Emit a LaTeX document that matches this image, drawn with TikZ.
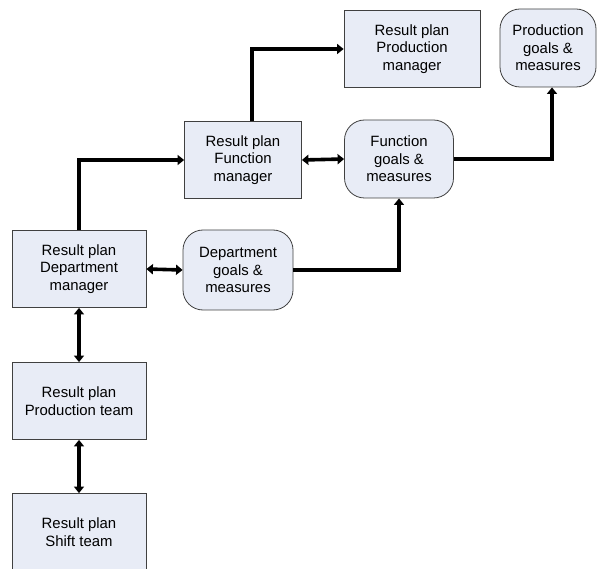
\documentclass[tikz,border=0pt]{standalone}
\usepackage{fontspec}
\setmainfont{Liberation Sans}
\usetikzlibrary{arrows.meta}
\definecolor{boxfill}{HTML}{E8ECF6}
\definecolor{boxline}{HTML}{404040}
\tikzset{
  planbox/.style={draw=boxline, line width=0.8pt, fill=boxfill, align=center, inner sep=0pt,
    font=\fontsize{14.9}{17.5}\selectfont},
  goalbox/.style={planbox, rounded corners=20pt},
  conn/.style={line width=3.6pt, -{Triangle[length=6.5pt,width=10pt]}},
  dconn/.style={line width=3.6pt, {Triangle[length=6.5pt,width=10pt]}-{Triangle[length=6.5pt,width=10pt]}}
}
\begin{document}
\begin{tikzpicture}[x=1pt,y=-1pt]
\useasboundingbox (0,0) rectangle (597,569);
\node[planbox, minimum width=134pt, minimum height=77pt] (DM) at (79,269) {Result plan\\Department\\manager};
\node[goalbox, minimum width=110pt, minimum height=80pt] (DG) at (238,270) {Department\\goals \&\\measures};
\node[planbox, minimum width=117pt, minimum height=77pt] (FM) at (243,160) {Result plan\\Function\\manager};
\node[goalbox, minimum width=109pt, minimum height=78pt] (FG) at (399,159) {Function\\goals \&\\measures};
\node[planbox, minimum width=136pt, minimum height=77pt] (PM) at (412,49) {Result plan\\Production\\manager};
\node[goalbox, minimum width=96pt, minimum height=78pt] (PG) at (548,48) {Production\\goals \&\\measures};
\node[planbox, minimum width=134pt, minimum height=77pt] (PT) at (79,401) {Result plan\\Production team};
\node[planbox, minimum width=134pt, minimum height=77pt] (ST) at (79,532) {Result plan\\Shift team};

\draw[conn] (DM.north) |- (FM.west);
\draw[conn] ([xshift=9pt]FM.north) |- (PM.west);
\draw[conn] (FG.east) -| ([xshift=4pt]PG.south);
\draw[conn] (DG.east) -| (FG.south);
\draw[dconn] (DM.east) -- (DG.west);
\draw[dconn] (FM.east) -- (FG.west);
\draw[dconn] (DM.south) -- (PT.north);
\draw[dconn] (PT.south) -- (ST.north);
\end{tikzpicture}
\end{document}
